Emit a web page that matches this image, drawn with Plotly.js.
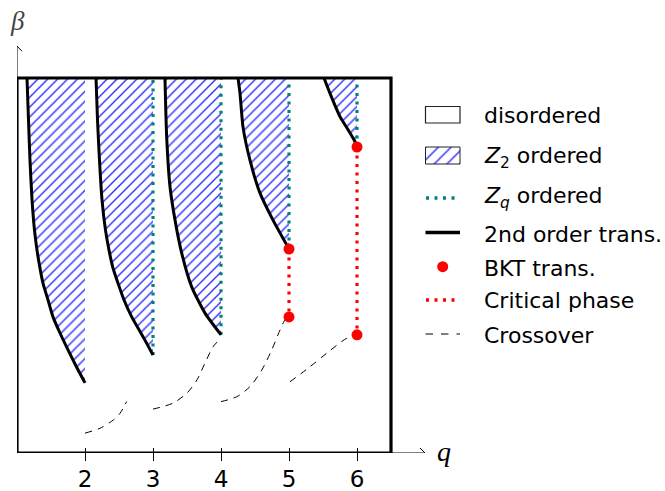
<!DOCTYPE html>
<html><head><meta charset="utf-8">
<script src="https://cdn.plot.ly/plotly-3.0.1.min.js"></script>
<style>html,body{margin:0;padding:0;background:#fff;}#plot{width:665px;height:491px;}</style>
</head><body><div id="plot"></div>
<script>
// ---------- data ----------
const tickQ = [2, 3, 4, 5, 6];
const tickLabels = ['2', '3', '4', '5', '6'];
const qBoxMax = 6.5;
const betaTop = 1.0;

// 2nd-order transition lines (q, beta), one per q
const trans2_q2_q = [1.147, 1.169, 1.191, 1.221, 1.257, 1.294, 1.338, 1.382, 1.456, 1.529, 1.632, 1.750, 1.868, 2.0];
const trans2_q2_b = [1.0, 0.888, 0.781, 0.675, 0.595, 0.541, 0.493, 0.453, 0.408, 0.363, 0.320, 0.275, 0.232, 0.187];
const trans2_q3_q = [2.162, 2.184, 2.213, 2.25, 2.301, 2.353, 2.412, 2.485, 2.574, 2.687, 2.857, 3.0];
const trans2_q3_b = [1.0, 0.888, 0.781, 0.675, 0.595, 0.541, 0.493, 0.453, 0.408, 0.363, 0.309, 0.261];
const trans2_q4_q = [3.176, 3.201, 3.25, 3.324, 3.422, 3.569, 3.765, 4.0];
const trans2_q4_b = [1.0, 0.843, 0.710, 0.621, 0.533, 0.443, 0.373, 0.315];
const trans2_q5_q = [4.25, 4.279, 4.324, 4.426, 4.574, 4.765, 5.0];
const trans2_q5_b = [1.0, 0.96, 0.869, 0.781, 0.693, 0.621, 0.544];
const trans2_q6_q = [5.515, 5.603, 5.75, 5.872, 5.971, 6.0];
const trans2_q6_b = [1.0, 0.959, 0.897, 0.861, 0.830, 0.816];

// Z_q ordered (dotted) lines: q and lower beta end
const zqQ = [3, 4, 5, 6];
const zqFrom = [0.261, 0.315, 0.544, 0.816];

// BKT transition points
const bktQ = [5, 5, 6, 6];
const bktB = [0.544, 0.363, 0.816, 0.315];

// crossover (dashed) curves
const cross1_q = [2.0, 2.221, 2.416, 2.515, 2.613];
const cross1_b = [0.053, 0.066, 0.088, 0.106, 0.137];
const cross2_q = [3.0, 3.294, 3.5, 3.647, 3.765, 3.882, 3.971];
const cross2_b = [0.117, 0.133, 0.16, 0.195, 0.24, 0.283, 0.301];
const cross3_q = [4.0, 4.231, 4.426, 4.599, 4.746, 4.868, 4.941, 5.0];
const cross3_b = [0.137, 0.15, 0.177, 0.221, 0.275, 0.328, 0.355, 0.363];
const cross4_q = [5.015, 5.309, 5.554, 5.849, 6.0];
const cross4_b = [0.19, 0.23, 0.266, 0.306, 0.315];

const legendLabels = ['disordered', '<i>Z</i><sub>2</sub> ordered', '<i>Z<sub>q</sub></i> ordered',
  '2nd order trans.', 'BKT trans.', 'Critical phase', 'Crossover'];

// ---------- styles ----------
const HATCH = {shape: '/', size: 7, solidity: 0.2, fgcolor: '#2e2eff', bgcolor: 'white'};
const TEAL = '#008080';
const RED = '#ff0000';
const DOT = '3px,5.5px';
const DASH = '7px,6px';
const FONT = 'DejaVu Sans';

const transList = [
  [trans2_q2_q, trans2_q2_b], [trans2_q3_q, trans2_q3_b], [trans2_q4_q, trans2_q4_b],
  [trans2_q5_q, trans2_q5_b], [trans2_q6_q, trans2_q6_b]
];
const crossList = [[cross1_q, cross1_b], [cross2_q, cross2_b], [cross3_q, cross3_b], [cross4_q, cross4_b]];

const traces = [];
// hatched Z2 regions
transList.forEach(([qs, bs]) => {
  const qEnd = qs[qs.length - 1];
  traces.push({
    x: qs.concat([qEnd, qs[0]]), y: bs.concat([betaTop, betaTop]),
    mode: 'none', fill: 'toself', fillcolor: 'white', fillpattern: HATCH,
    hoverinfo: 'skip', xaxis: 'x', yaxis: 'y'
  });
});
// Zq ordered dotted lines
zqQ.forEach((qv, i) => {
  traces.push({x: [qv, qv], y: [zqFrom[i], betaTop], mode: 'lines',
    line: {color: TEAL, width: 3.2, dash: DOT}, hoverinfo: 'skip'});
});
// critical phase (between BKT points)
for (let i = 0; i < bktQ.length; i += 2) {
  traces.push({x: [bktQ[i], bktQ[i + 1]], y: [bktB[i], bktB[i + 1]], mode: 'lines',
    line: {color: RED, width: 3.2, dash: DOT}, hoverinfo: 'skip'});
}
// 2nd-order transitions
transList.forEach(([qs, bs]) => {
  traces.push({x: qs, y: bs, mode: 'lines',
    line: {color: 'black', width: 3, shape: 'spline', smoothing: 0.6}, hoverinfo: 'skip'});
});
// crossovers
crossList.forEach(([qs, bs]) => {
  traces.push({x: qs, y: bs, mode: 'lines',
    line: {color: 'black', width: 1, dash: DASH, shape: 'spline', smoothing: 0.8}, hoverinfo: 'skip'});
});
// BKT points
traces.push({x: bktQ, y: bktB, mode: 'markers', marker: {color: RED, size: 11}, hoverinfo: 'skip'});

// ---------- legend (drawn in a pixel-scaled overlay axis pair) ----------
const legRows = [115, 157, 197, 234, 268, 300, 335];
const legX0 = 425.5, legX1 = 460;
traces.push({x: [legX0, legX1, legX1, legX0, legX0], y: [147, 147, 164, 164, 147],
  mode: 'lines', fill: 'toself', fillcolor: 'white',
  fillpattern: {shape: '/', size: 9, solidity: 0.16, fgcolor: '#2e2eff', bgcolor: 'white'},
  line: {color: '#222', width: 1}, xaxis: 'x2', yaxis: 'y2', hoverinfo: 'skip'});
traces.push({x: [426, 456], y: [198, 198], mode: 'lines',
  line: {color: TEAL, width: 3.5, dash: DOT}, xaxis: 'x2', yaxis: 'y2', hoverinfo: 'skip'});
traces.push({x: [legX0, legX1], y: [232.5, 232.5], mode: 'lines',
  line: {color: 'black', width: 3.5}, xaxis: 'x2', yaxis: 'y2', hoverinfo: 'skip'});
traces.push({x: [442.7], y: [266.7], mode: 'markers', marker: {color: RED, size: 11},
  xaxis: 'x2', yaxis: 'y2', hoverinfo: 'skip'});
traces.push({x: [426, 456], y: [300, 300], mode: 'lines',
  line: {color: RED, width: 3.5, dash: DOT}, xaxis: 'x2', yaxis: 'y2', hoverinfo: 'skip'});
traces.push({x: [legX0, legX1], y: [334, 334], mode: 'lines',
  line: {color: 'black', width: 1, dash: '7.5px,8px'}, xaxis: 'x2', yaxis: 'y2', hoverinfo: 'skip'});

const annotations = legendLabels.map((t, i) => ({
  text: t, x: 482, y: legRows[i], xref: 'x2', yref: 'y2', xanchor: 'left', yanchor: 'middle',
  showarrow: false, font: {family: FONT, size: 22, color: 'black'}
}));
annotations.push({text: '<i>β</i>', x: 17, y: 21, xref: 'x2', yref: 'y2', showarrow: false,
  font: {family: 'Liberation Serif', size: 27, color: '#444'}});
annotations.push({text: '<i>q</i>', x: 444, y: 451, xref: 'x2', yref: 'y2', showarrow: false,
  font: {family: 'Liberation Serif', size: 28, color: 'black'}});

const shapes = [
  // frame
  {type: 'rect', xref: 'x', yref: 'y', x0: 1, x1: qBoxMax, y0: 0, y1: betaTop,
    line: {color: 'black', width: 3.2}, fillcolor: 'rgba(0,0,0,0)', layer: 'above'},
  // axis arrows
  {type: 'line', xref: 'x', yref: 'y', x0: qBoxMax, x1: 7.0, y0: 0, y1: 0, line: {color: 'black', width: 1}},
  {type: 'line', xref: 'x', yref: 'y', x0: 1, x1: 1, y0: betaTop, y1: 1.085, line: {color: 'black', width: 1}},
  {type: 'path', xref: 'x', yref: 'y', xsizemode: 'pixel', ysizemode: 'pixel', xanchor: 7.0, yanchor: 0,
    path: 'M-5,5 L0,0 L-5,-5', line: {color: 'black', width: 1}},
  {type: 'path', xref: 'x', yref: 'y', xsizemode: 'pixel', ysizemode: 'pixel', xanchor: 1, yanchor: 1.085,
    path: 'M-5,-5 L0,0 L5,-5', line: {color: 'black', width: 1}},
  // legend box for "disordered"
  {type: 'rect', xref: 'x2', yref: 'y2', x0: legX0, x1: legX1, y0: 106.5, y1: 123,
    line: {color: '#222', width: 1.2}, fillcolor: 'white'}
];

const layout = {
  width: 665, height: 491, margin: {l: 0, r: 0, t: 0, b: 0},
  paper_bgcolor: 'white', plot_bgcolor: 'rgba(0,0,0,0)', showlegend: false,
  xaxis: {domain: [17 / 665, 431.8 / 665], range: [1, 7.1], anchor: 'free', position: 44 / 491,
    showgrid: false, zeroline: false, showline: false,
    tickmode: 'array', tickvals: tickQ, ticktext: tickLabels,
    ticks: 'outside', ticklen: 13, tickwidth: 1, tickcolor: 'black', ticklabelstandoff: -2,
    tickfont: {family: FONT, size: 23, color: 'black'}},
  yaxis: {domain: [38 / 491, 450.5 / 491], range: [0, 1.1], anchor: 'x',
    showgrid: false, zeroline: false, showline: false, showticklabels: false, ticks: ''},
  xaxis2: {domain: [0, 1], range: [0, 665], anchor: 'y2', visible: false},
  yaxis2: {domain: [0, 1], range: [491, 0], anchor: 'x2', visible: false},
  shapes: shapes, annotations: annotations
};

Plotly.newPlot('plot', traces, layout, {staticPlot: true, displayModeBar: false});
</script></body></html>
